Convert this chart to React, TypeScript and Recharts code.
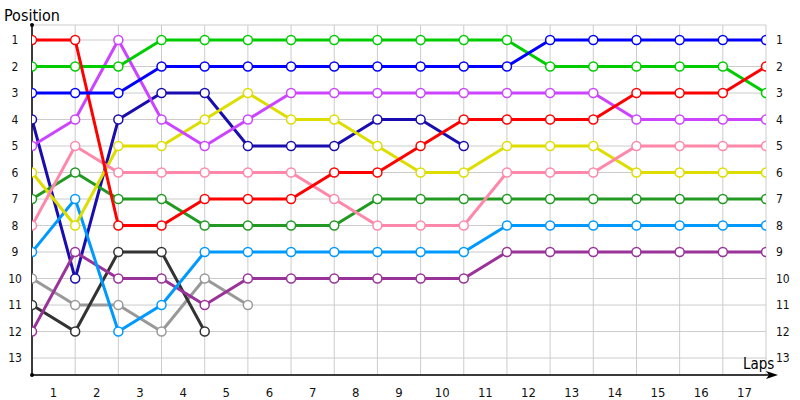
import React from 'react';
import { LineChart, Line, XAxis, YAxis, CartesianGrid } from 'recharts';

const LAPS = [0, 1, 2, 3, 4, 5, 6, 7, 8, 9, 10, 11, 12, 13, 14, 15, 16, 17];
const LAP_LABELS = ['1', '2', '3', '4', '5', '6', '7', '8', '9', '10', '11', '12', '13', '14', '15', '16', '17'];
const POSITIONS = [1, 2, 3, 4, 5, 6, 7, 8, 9, 10, 11, 12, 13];

const red = [1, 1, 8, 8, 7, 7, 7, 6, 6, 5, 4, 4, 4, 4, 3, 3, 3, 2];
const green = [2, 2, 2, 1, 1, 1, 1, 1, 1, 1, 1, 1, 2, 2, 2, 2, 2, 3];
const blue = [3, 3, 3, 2, 2, 2, 2, 2, 2, 2, 2, 2, 1, 1, 1, 1, 1, 1];
const violet = [5, 4, 1, 4, 5, 4, 3, 3, 3, 3, 3, 3, 3, 3, 4, 4, 4, 4];
const navy = [4, 10, 4, 3, 3, 5, 5, 5, 4, 4, 5, null, null, null, null, null, null, null];
const yellow = [6, 8, 5, 5, 4, 3, 4, 4, 5, 6, 6, 5, 5, 5, 6, 6, 6, 6];
const pink = [8, 5, 6, 6, 6, 6, 6, 7, 8, 8, 8, 6, 6, 6, 5, 5, 5, 5];
const darkGreen = [7, 6, 7, 7, 8, 8, 8, 8, 7, 7, 7, 7, 7, 7, 7, 7, 7, 7];
const lightBlue = [9, 7, 12, 11, 9, 9, 9, 9, 9, 9, 9, 8, 8, 8, 8, 8, 8, 8];
const plum = [12, 9, 10, 10, 11, 10, 10, 10, 10, 10, 10, 9, 9, 9, 9, 9, 9, 9];
const gray = [10, 11, 11, 12, 10, 11, null, null, null, null, null, null, null, null, null, null, null, null];
const dark = [11, 12, 9, 9, 12, null, null, null, null, null, null, null, null, null, null, null, null, null];

const SERIES: { key: string; values: (number | null)[]; color: string }[] = [
  { key: 'gray', values: gray, color: '#999999' },
  { key: 'dark', values: dark, color: '#333333' },
  { key: 'navy', values: navy, color: '#1a0db0' },
  { key: 'plum', values: plum, color: '#993399' },
  { key: 'lightBlue', values: lightBlue, color: '#0099ff' },
  { key: 'darkGreen', values: darkGreen, color: '#229922' },
  { key: 'yellow', values: yellow, color: '#dddd00' },
  { key: 'pink', values: pink, color: '#ff88aa' },
  { key: 'violet', values: violet, color: '#cc44ff' },
  { key: 'green', values: green, color: '#00cc00' },
  { key: 'red', values: red, color: '#ff0000' },
  { key: 'blue', values: blue, color: '#0000ff' },
];

const data = LAPS.map((lap, i) => {
  const row: Record<string, number | null> = { lap };
  SERIES.forEach((s) => {
    row[s.key] = s.values[i];
  });
  return row;
});

const FONT = "'DejaVu Sans Condensed', 'DejaVu Sans', sans-serif";
const W = 800;
const H = 400;
const LEFT_W = 32;
const RIGHT_W = 34;
const TOP = 25;
const BOTTOM = 25;
const STEP = (W - LEFT_W - RIGHT_W) / (LAPS.length - 1);

const XTick = (props: any) => {
  const { x, y, payload } = props;
  const i = payload.value as number;
  if (i >= LAP_LABELS.length) return null;
  return (
    <text x={x + STEP / 2} y={y + 14} textAnchor="middle" fontFamily={FONT} fontStretch="condensed" fontSize={13} fill="#111">
      {LAP_LABELS[i]}
    </text>
  );
};

const LeftTick = (props: any) => {
  const { y, payload } = props;
  return (
    <text x={15} y={y + 4} textAnchor="middle" fontFamily={FONT} fontStretch="condensed" fontSize={12} fill="#111">
      {payload.value}
    </text>
  );
};

const RightTick = (props: any) => {
  const { y, payload } = props;
  return (
    <text x={W - RIGHT_W + 10} y={y + 4} textAnchor="start" fontFamily={FONT} fontStretch="condensed" fontSize={12} fill="#111">
      {payload.value}
    </text>
  );
};

const XLabel = (props: any) => {
  const { viewBox } = props;
  const { x, y, width } = viewBox;
  const end = x + width + 12;
  return (
    <g>
      <line x1={x + width} y1={y} x2={end - 3} y2={y} stroke="#000" strokeWidth={1.5} />
      <polygon points={`${end},${y} ${end - 12},${y - 4} ${end - 9},${y} ${end - 12},${y + 4}`} fill="#000" />
      <text x={x + width - 23} y={y - 6} fontFamily={FONT} fontStretch="condensed" fontSize={15} fill="#000">
        Laps
      </text>
    </g>
  );
};

const YLabel = (props: any) => {
  const { viewBox } = props;
  const { x, y, width, height } = viewBox;
  return (
    <g>
      <circle cx={x + width} cy={y} r={2} fill="#000" />
      <circle cx={x + width} cy={y + height} r={2} fill="#000" />
      <text x={4} y={y - 4} fontFamily={FONT} fontStretch="condensed" fontSize={16} fill="#000">
        Position
      </text>
    </g>
  );
};

export default function App() {
  return (
    <div style={{ width: W, height: H, position: 'absolute', left: 0, top: 0, background: '#fff' }}>
      <LineChart width={W} height={H} data={data} margin={{ top: TOP, right: 0, bottom: 0, left: 0 }}>
        <CartesianGrid stroke="#cccccc" strokeWidth={1} xAxisId="x" yAxisId="left" />
        <XAxis
          xAxisId="x"
          dataKey="lap"
          type="number"
          domain={[0, 17]}
          ticks={LAPS}
          interval={0}
          height={BOTTOM}
          tickLine={false}
          axisLine={{ stroke: '#000', strokeWidth: 1.5 }}
          tick={<XTick />}
          label={<XLabel />}
          allowDataOverflow
        />
        <YAxis
          yAxisId="left"
          type="number"
          domain={[0.434, 13.64]}
          reversed
          ticks={POSITIONS}
          interval={0}
          width={LEFT_W}
          tickLine={false}
          axisLine={{ stroke: '#000', strokeWidth: 1.5 }}
          tick={<LeftTick />}
          label={<YLabel />}
          allowDataOverflow
        />
        <YAxis
          yAxisId="right"
          orientation="right"
          type="number"
          domain={[0.434, 13.64]}
          reversed
          ticks={POSITIONS}
          interval={0}
          width={RIGHT_W}
          tickLine={false}
          axisLine={false}
          tick={<RightTick />}
          allowDataOverflow
        />
        {SERIES.map((s) => (
          <Line
            key={s.key}
            xAxisId="x"
            yAxisId="left"
            type="linear"
            dataKey={s.key}
            stroke={s.color}
            strokeWidth={3}
            dot={{ r: 4.5, fill: '#fff', stroke: s.color, strokeWidth: 1.5 }}
            activeDot={false}
            isAnimationActive={false}
          />
        ))}
      </LineChart>
    </div>
  );
}
